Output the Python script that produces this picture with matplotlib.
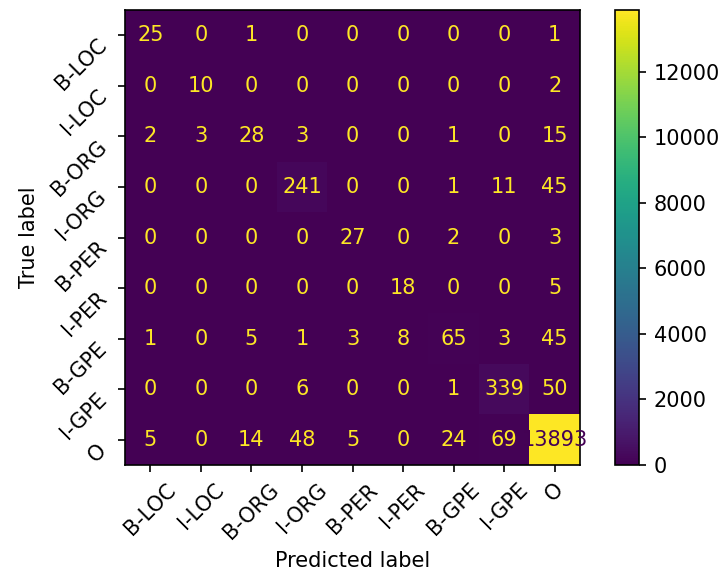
import numpy as np
import matplotlib
matplotlib.use('Agg')
import matplotlib.pyplot as plt

# Etichette delle classi
labels = ['B-LOC', 'I-LOC', 'B-ORG', 'I-ORG', 'B-PER', 'I-PER', 'B-GPE', 'I-GPE', 'O']

# Righe della matrice di confusione (vero -> predetto)
row_b_loc = [25, 0, 1, 0, 0, 0, 0, 0, 1]
row_i_loc = [0, 10, 0, 0, 0, 0, 0, 0, 2]
row_b_org = [2, 3, 28, 3, 0, 0, 1, 0, 15]
row_i_org = [0, 0, 0, 241, 0, 0, 1, 11, 45]
row_b_per = [0, 0, 0, 0, 27, 0, 2, 0, 3]
row_i_per = [0, 0, 0, 0, 0, 18, 0, 0, 5]
row_b_gpe = [1, 0, 5, 1, 3, 8, 65, 3, 45]
row_i_gpe = [0, 0, 0, 6, 0, 0, 1, 339, 50]
row_o = [5, 0, 14, 48, 5, 0, 24, 69, 13893]

cm = np.array([row_b_loc, row_i_loc, row_b_org, row_i_org, row_b_per,
               row_i_per, row_b_gpe, row_i_gpe, row_o])

W, H = 722, 575
dpi = 150
fig = plt.figure(figsize=(W / dpi, H / dpi), dpi=dpi)
plt.rcParams['font.size'] = 10

ax = fig.add_axes([125 / W, (H - 465) / H, 455 / W, 455 / H])
cax = fig.add_axes([615 / W, (H - 465) / H, 24 / W, 455 / H])

cmap = plt.get_cmap('viridis')
im = ax.imshow(cm, cmap=cmap, interpolation='nearest', aspect='auto')

# Testo nelle celle (colore come in sklearn)
thresh = (cm.max() + cm.min()) / 2.0
n = cm.shape[0]
for i in range(n):
    for j in range(n):
        color = cmap(0) if cm[i, j] > thresh else cmap(1.0)
        ax.text(j, i, format(cm[i, j], 'd'), ha='center', va='center',
                color=color, fontsize=10)

ax.set_xticks(np.arange(n))
ax.set_yticks(np.arange(n))
ax.set_xticklabels(labels, rotation=45)
ax.set_yticklabels(labels, rotation=45, va='top')
ax.set_xlabel('Predicted label')
ax.set_ylabel('True label')
ax.set_xlim(-0.5, n - 0.5)
ax.set_ylim(n - 0.5, -0.5)

fig.colorbar(im, cax=cax)

plt.savefig('out.png', dpi=dpi)
